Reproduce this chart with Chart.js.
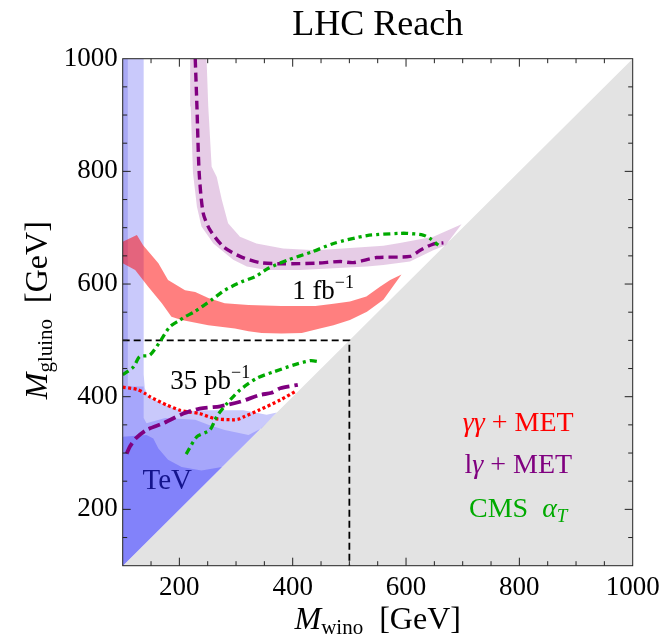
<!DOCTYPE html>
<html>
<head>
<meta charset="utf-8">
<script src="https://cdn.jsdelivr.net/npm/chart.js@4.4.0/dist/chart.umd.min.js"></script>
<style>
  html, body { margin: 0; padding: 0; background: #fff; }
</style>
</head>
<body>
<canvas id="reach" width="660" height="640"></canvas>
<script>
// axis range and tick labels (GeV)
const axisMin = 100;
const axisMax = 1000;
const tickStep = 50;
const labelStep = 200;

// kinematically forbidden region, M_gluino < M_wino
const excluded = [[100, 100], [1000, 1000], [1000, 100]];

// Tevatron bounds (three shades)
const tevLight = [[100, 100], [100, 1000], [137, 1000], [137, 440], [139, 415], [145, 400], [178, 384], [207, 374], [248, 376], [313, 376], [354, 368], [372, 372]];
const tevEdge = [[100, 330], [100, 1000], [109, 1000], [109, 330]];
const tevMid = [[100, 100], [100, 418], [137, 418], [137, 362], [142, 353], [175, 362], [228, 359], [251, 350], [280, 341], [322, 332], [345, 344], [366, 366]];
const tevDark = [[100, 100], [100, 329], [142, 332], [154, 326], [163, 308], [180, 288], [204, 275], [239, 269], [275, 275]];

// 1 fb^-1 gamma gamma + MET band
const gamgamUpper = [[100, 675], [125, 687], [136, 669], [163, 637], [180, 607], [210, 589], [228, 586], [251, 575], [280, 566], [322, 563], [380, 561], [440, 561], [472, 565], [501, 569], [530, 578], [554, 595], [572, 607], [592, 617]];
const gamgamLower = [[100, 637], [122, 625], [145, 595], [169, 566], [186, 542], [204, 536], [251, 527], [298, 521], [322, 516], [345, 513], [380, 512], [416, 513], [448, 521], [472, 527], [501, 536], [531, 551], [560, 572]];

// 1 fb^-1 l gamma + MET band and central line
const lgamUpper = [[248, 1000], [251, 915], [257, 808], [266, 790], [275, 749], [286, 708], [307, 684], [336, 672], [383, 663], [442, 660], [501, 664], [560, 668], [589, 673], [648, 684], [698, 706]];
const lgamLower = [[219, 1000], [220, 915], [224, 797], [231, 737], [239, 702], [260, 672], [295, 643], [319, 631], [354, 625], [413, 625], [472, 628], [531, 631], [560, 634], [607, 640], [648, 660], [670, 669]];
const lgam1fb = [[228, 1000], [231, 915], [235, 797], [242, 726], [254, 696], [278, 666], [307, 649], [342, 638], [383, 636], [442, 637], [484, 640], [507, 638], [548, 647], [607, 649], [625, 660], [648, 671], [666, 673]];

// CMS alpha_T
const cms1fb = [[100, 439], [119, 453], [130, 471], [148, 474], [166, 498], [183, 524], [201, 536], [210, 542], [227, 551], [257, 572], [280, 589], [310, 604], [334, 613], [357, 628], [392, 643], [434, 657], [472, 672], [531, 686], [589, 690], [601, 690], [630, 687], [642, 681], [657, 669]];
const cms35 = [[212, 298], [231, 329], [254, 341], [266, 365], [284, 388], [307, 412], [337, 433], [366, 444], [401, 456], [431, 464], [448, 462]];

// 35 pb^-1 limits
const lgam35 = [[107, 299], [113, 312], [123, 326], [142, 341], [172, 353], [207, 370], [236, 379], [272, 383], [307, 391], [342, 403], [363, 407], [378, 415], [409, 421]];
const gamgam35 = [[100, 417], [125, 413], [139, 406], [148, 400], [178, 385], [201, 376], [216, 373], [236, 370], [263, 361], [295, 359], [304, 360], [313, 364], [340, 376], [378, 394], [404, 409]];

// 35 pb^-1 reach box
const box35 = [[100, 500], [500, 500], [500, 100]];

const serif = "'Liberation Serif', 'DejaVu Serif', serif";

function pts(arr) {
  return arr.map(([x, y]) => ({ x, y }));
}
function band(upper, lower) {
  return pts(upper.concat(lower.slice().reverse()));
}
function area(data, color, order) {
  return { data, fill: 'shape', backgroundColor: color, borderColor: 'rgba(0,0,0,0)', borderWidth: 0, pointRadius: 0, order };
}
function curve(arr, color, width, dash, order) {
  return { data: pts(arr), fill: false, borderColor: color, borderWidth: width, borderDash: dash, pointRadius: 0, tension: 0.25, order };
}

function drawRich(ctx, parts, x, y, align) {
  let w = 0;
  for (const p of parts) {
    ctx.font = (p.italic ? 'italic ' : '') + p.size + 'px ' + serif;
    p.w = ctx.measureText(p.t).width;
    w += p.w;
  }
  let cx = align === 'center' ? x - w / 2 : x;
  for (const p of parts) {
    ctx.font = (p.italic ? 'italic ' : '') + p.size + 'px ' + serif;
    ctx.fillText(p.t, cx, y + (p.dy || 0));
    cx += p.w;
  }
}

const decor = {
  id: 'decor',
  afterDraw(chart) {
    const { ctx, chartArea: a, scales: { x, y } } = chart;
    ctx.save();
    // frame with inward ticks
    ctx.strokeStyle = '#222';
    ctx.lineWidth = 1;
    ctx.strokeRect(a.left, a.top, a.width, a.height);
    ctx.beginPath();
    x.ticks.forEach(t => {
      if (t.value === axisMin || t.value === axisMax) return;
      const px = x.getPixelForValue(t.value);
      const len = t.value % labelStep === 0 ? 8 : 4.5;
      ctx.moveTo(px, a.bottom); ctx.lineTo(px, a.bottom - len);
      ctx.moveTo(px, a.top); ctx.lineTo(px, a.top + len);
    });
    y.ticks.forEach(t => {
      if (t.value === axisMin || t.value === axisMax) return;
      const py = y.getPixelForValue(t.value);
      const len = t.value % labelStep === 0 ? 8 : 4.5;
      ctx.moveTo(a.left, py); ctx.lineTo(a.left + len, py);
      ctx.moveTo(a.right, py); ctx.lineTo(a.right - len, py);
    });
    ctx.stroke();

    ctx.textBaseline = 'alphabetic';
    // axis titles
    ctx.fillStyle = '#000';
    drawRich(ctx, [
      { t: 'M', size: 32, italic: true },
      { t: 'wino', size: 21, dy: 5 },
      { t: '  [GeV]', size: 32 }
    ], (a.left + a.right) / 2, 629, 'center');
    ctx.save();
    ctx.translate(47, (a.top + a.bottom) / 2 - 2);
    ctx.rotate(-Math.PI / 2);
    drawRich(ctx, [
      { t: 'M', size: 32, italic: true },
      { t: 'gluino', size: 21, dy: 5 },
      { t: '  [GeV]', size: 32 }
    ], 0, 0, 'center');
    ctx.restore();

    // annotations
    drawRich(ctx, [
      { t: '1 fb', size: 27 },
      { t: '\u22121', size: 18, dy: -11 }
    ], x.getPixelForValue(399), y.getPixelForValue(573), 'left');
    drawRich(ctx, [
      { t: '35 pb', size: 27 },
      { t: '\u22121', size: 18, dy: -11 }
    ], x.getPixelForValue(184), y.getPixelForValue(413), 'left');
    ctx.fillStyle = '#14148c';
    drawRich(ctx, [{ t: 'TeV', size: 29 }], x.getPixelForValue(135), y.getPixelForValue(236), 'left');

    // legend
    const lx = x.getPixelForValue(798);
    ctx.fillStyle = '#ff0000';
    drawRich(ctx, [
      { t: '\u03b3\u03b3', size: 28, italic: true },
      { t: ' + MET', size: 28 }
    ], lx, y.getPixelForValue(340), 'center');
    ctx.fillStyle = '#800080';
    drawRich(ctx, [
      { t: 'l', size: 28 },
      { t: '\u03b3', size: 28, italic: true },
      { t: ' + MET', size: 28 }
    ], lx, y.getPixelForValue(265), 'center');
    ctx.fillStyle = '#00aa00';
    drawRich(ctx, [
      { t: 'CMS  ', size: 28 },
      { t: '\u03b1', size: 28, italic: true },
      { t: 'T', size: 19, italic: true, dy: 5 }
    ], lx, y.getPixelForValue(187), 'center');
    ctx.restore();
  }
};

const tickFont = { family: serif, size: 27 };

new Chart(document.getElementById('reach'), {
  type: 'line',
  data: {
    datasets: [
      area(pts(excluded), '#e3e3e3', 30),
      area(pts(tevLight), '#c9c9fb', 29),
      area(pts(tevEdge), '#a9a9f4', 28),
      area(pts(tevMid), '#a6a6fb', 27),
      area(pts(tevDark), '#8282fa', 26),
      area(band(gamgamUpper, gamgamLower), 'rgba(255,0,0,0.5)', 25),
      area(band(lgamUpper, lgamLower), 'rgba(128,0,128,0.2)', 24),
      { data: pts(box35), fill: false, borderColor: '#000', borderWidth: 1.8, borderDash: [7, 4], pointRadius: 0, order: 23 },
      curve(gamgam35, '#ff0000', 3.3, [3, 2.5], 22),
      curve(lgam35, '#800080', 3.8, [12, 5], 21),
      curve(cms35, '#00aa00', 3.3, [7, 4, 3, 4], 20),
      curve(lgam1fb, '#800080', 3.4, [9, 5], 19),
      curve(cms1fb, '#00aa00', 3.3, [7, 4, 3, 4], 18)
    ]
  },
  options: {
    responsive: false,
    animation: false,
    layout: { padding: { left: 0, right: 27.3, top: 0, bottom: 0 } },
    plugins: {
      legend: { display: false },
      tooltip: { enabled: false },
      title: {
        display: true,
        text: 'LHC Reach',
        fullSize: false,
        color: '#000',
        font: { family: serif, size: 36, weight: 'normal' },
        padding: { top: 4, bottom: 11.5 }
      }
    },
    scales: {
      x: {
        type: 'linear',
        min: axisMin,
        max: axisMax,
        grid: { display: false, drawTicks: false },
        border: { display: false },
        ticks: {
          stepSize: tickStep,
          autoSkip: false,
          maxRotation: 0,
          padding: 6,
          color: '#000',
          font: tickFont,
          callback: v => (v % labelStep === 0 ? String(v) : '')
        },
        afterFit: s => { s.height = 74.3; s.paddingLeft = 0; s.paddingRight = 0; }
      },
      y: {
        type: 'linear',
        min: axisMin,
        max: axisMax,
        grid: { display: false, drawTicks: false },
        border: { display: false },
        ticks: {
          stepSize: tickStep,
          autoSkip: false,
          padding: 5,
          color: '#000',
          font: tickFont,
          callback: v => (v % labelStep === 0 ? String(v) : '')
        },
        afterFit: s => { s.width = 122.7; s.paddingTop = 0; s.paddingBottom = 0; }
      }
    }
  },
  plugins: [decor]
});
</script>
</body>
</html>
